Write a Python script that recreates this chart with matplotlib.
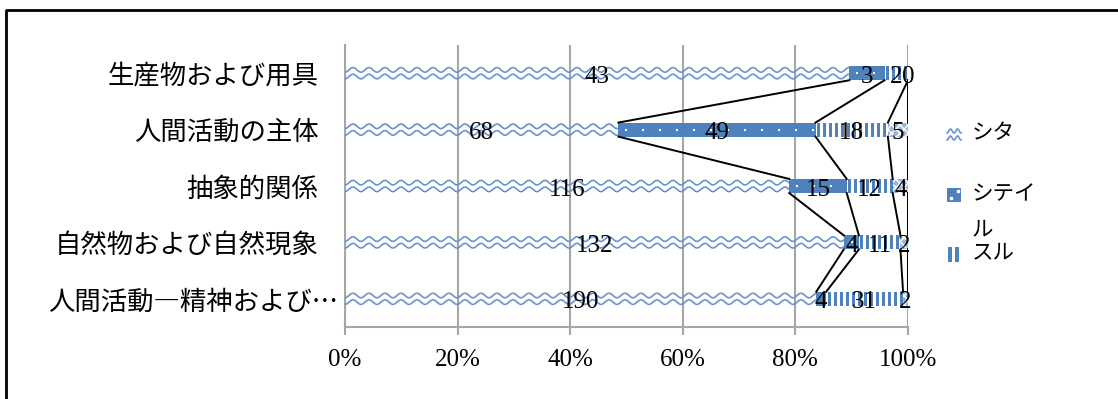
import numpy as np
import matplotlib.pyplot as plt
from matplotlib.patches import Rectangle
from matplotlib.transforms import ScaledTranslation

plt.rcParams['font.family'] = ['Noto Sans CJK JP', 'DejaVu Sans']

categories = ['生産物および用具', '人間活動の主体', '抽象的関係',
              '自然物および自然現象', '人間活動―精神および…']
series_names = ['シタ', 'シテイル', 'スル', 'その他']
shita = [43, 68, 116, 132, 190]
shiteiru = [3, 49, 15, 4, 4]
suru = [2, 18, 12, 11, 31]
other = [0, 5, 4, 2, 2]

blue = '#4F81BD'
wave_blue = '#6892D2'
grid_gray = '#A6A6A6'
num_font = 'Liberation Serif'

counts = np.array([shita, shiteiru, suru, other], dtype=float)
totals = counts.sum(axis=0)
pct = counts / totals * 100
cum = np.cumsum(pct, axis=0)
starts = cum - pct

W, H = 1118, 399
fig = plt.figure(figsize=(W / 100, H / 100), dpi=100)

# overlay in pixel coordinates for the frame and the legend
ov = fig.add_axes([0, 0, 1, 1], zorder=-1)
ov.set_xlim(0, W)
ov.set_ylim(H, 0)
ov.axis('off')
ov.plot([6, 6, W + 5], [H + 5, 10, 10], color='black', lw=2, solid_capstyle='butt')

ax = fig.add_axes([345 / W, 1 - 327 / H, 563 / W, 282 / H])
y = np.arange(len(categories))
h = 0.25
px_x = 100 / 563        # data units per pixel, x
px_y = 1 / 56.4         # data units per pixel, y

# シタ: wavy lines on white
bars0 = ax.barh(y, pct[0], left=starts[0], height=h, color='none', lw=0, zorder=3)
xx = np.linspace(0, 100, 4000)
for b in bars0:
    yc = b.get_y() + h / 2
    for off in (-3.3, 3.3):
        yy = yc + (off + 2.3 * np.cos(2 * np.pi * xx / (16 * px_x))) * px_y
        ln, = ax.plot(xx, yy, color=wave_blue, lw=1.2, zorder=3)
        ln.set_clip_path(b)

# シテイル: solid blue with white dots
bars1 = ax.barh(y, pct[1], left=starts[1], height=h, color=blue, lw=0, zorder=3)
for b in bars1:
    yc = b.get_y() + h / 2
    dx = np.arange(b.get_x() + 8 * px_x, b.get_x() + b.get_width(), 17 * px_x)
    pts = ax.scatter(dx, np.full_like(dx, yc), s=4, marker='s', color='white',
                     lw=0, zorder=4)
    pts.set_clip_path(b)

# スル: vertical stripes
bars2 = ax.barh(y, pct[2], left=starts[2], height=h, color='white', lw=0, zorder=3)
for b in bars2:
    sx = np.arange(b.get_x() + 1.5 * px_x, b.get_x() + b.get_width(), 6 * px_x)
    for s in sx:
        r = Rectangle((s, b.get_y()), 3 * px_x, h, color=blue, lw=0, zorder=3)
        ax.add_patch(r)
        r.set_clip_path(b)

# その他: fine checker
bars3 = ax.barh(y, pct[3], left=starts[3], height=h, color='#9BB6DC',
                edgecolor='white', hatch='xxxx', lw=0, zorder=3)

# series lines between neighbouring bars
for k in range(4):
    for i in range(len(categories) - 1):
        ax.plot([cum[k, i], cum[k, i + 1]], [i + h / 2, i + 1 - h / 2],
                color='black', lw=1.4, zorder=5)

# value labels
for k in range(4):
    for i in range(len(categories)):
        ax.text(starts[k, i] + pct[k, i] / 2, i + 9.5 * px_y, f'{int(counts[k, i])}',
                ha='center', va='baseline', fontsize=18, family=num_font, zorder=6)

ax.set_xlim(0, 100)
ax.set_ylim(len(categories) - 0.5, -0.5)
ax.set_xticks(np.arange(0, 101, 20))
ax.set_xticklabels([f'{v}%' for v in range(0, 101, 20)], family=num_font, fontsize=18)
ax.set_yticks(y)
ax.set_yticklabels(categories, fontsize=19)
ax.tick_params(axis='y', length=0, pad=19)
ax.tick_params(axis='x', length=6, width=1.5, color=grid_gray, pad=10)
ax.grid(axis='x', color=grid_gray, lw=1.5, zorder=0)
ax.set_axisbelow(True)
for s in ('top', 'right'):
    ax.spines[s].set_visible(False)
for s in ('left', 'bottom'):
    ax.spines[s].set_color(grid_gray)
    ax.spines[s].set_linewidth(1.5)

# the truncated last label sits closer to the axis
last = ax.get_yticklabels()[-1]
last.set_transform(last.get_transform() + ScaledTranslation(20 / 100, 0, fig.dpi_scale_trans))

# legend
lx = 947
# シタ
hx = np.linspace(lx, lx + 14, 60)
for off in (131, 138):
    ov.plot(hx, off + 2 * np.cos(2 * np.pi * (hx - lx) / 7), color=wave_blue, lw=1.2)
ov.text(972, 133, series_names[0], va='center', fontsize=15.5)
# シテイル
ov.add_patch(Rectangle((lx, 188), 14, 14, color=blue, lw=0))
ov.plot([lx + 4, lx + 11], [198, 191], 's', color='white', ms=1.5)
ov.text(972, 194, 'シテイ', va='center', fontsize=15.5)
ov.text(972, 229, 'ル', va='center', fontsize=15.5)
# スル
ov.add_patch(Rectangle((lx + 1, 247), 4, 15, color=blue, lw=0))
ov.add_patch(Rectangle((lx + 8, 247), 4, 15, color=blue, lw=0))
ov.text(972, 252, series_names[2], va='center', fontsize=15.5)

fig.savefig('out.png', dpi=100)
